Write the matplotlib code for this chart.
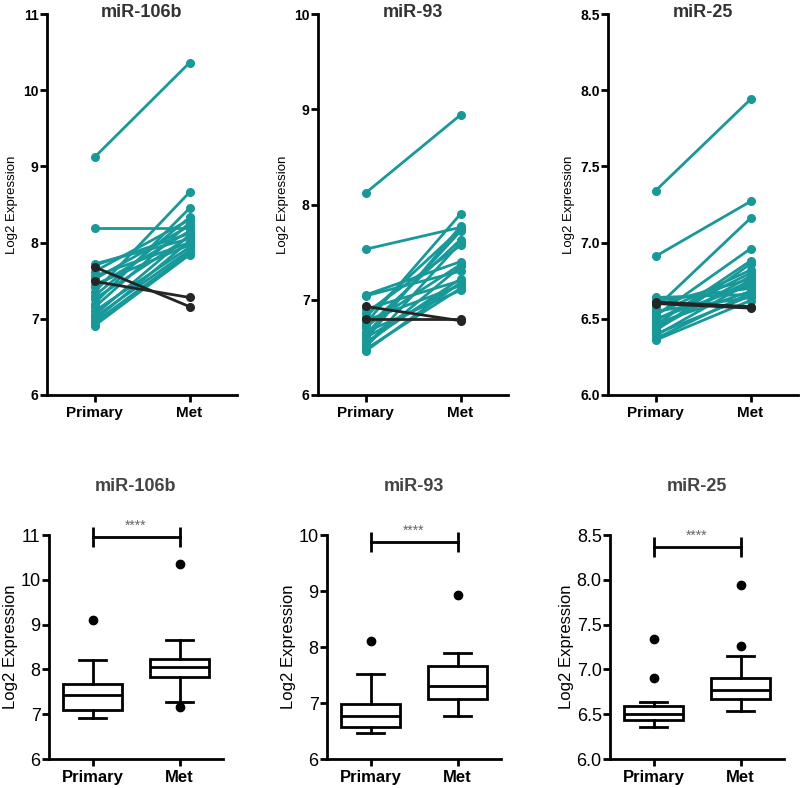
import matplotlib.pyplot as plt

plt.rcParams["font.family"] = ["Liberation Sans", "DejaVu Sans"]

# Gene names and group labels
genes = ["miR-106b", "miR-93", "miR-25"]
groups = ["Primary", "Met"]

# Paired log2 expression values (teal = up in Met, black = down in Met)
mir106b_primary = [9.12, 8.19, 7.72, 7.70, 7.62, 7.56, 7.52, 7.45, 7.42, 7.35,
                   7.30, 7.26, 7.20, 7.15, 7.10, 7.05, 7.02, 6.98, 6.95, 6.91]
mir106b_met = [10.36, 8.19, 8.05, 8.12, 8.30, 8.00, 8.22, 7.97, 8.15, 8.66,
               8.33, 8.08, 8.45, 8.26, 7.94, 8.10, 7.90, 8.02, 7.87, 7.84]
mir106b_down_primary = [7.68, 7.49]
mir106b_down_met = [7.16, 7.28]

mir93_primary = [8.12, 7.53, 7.05, 7.04, 6.90, 6.86, 6.82, 6.78, 6.75, 6.72,
                 6.70, 6.66, 6.63, 6.60, 6.58, 6.55, 6.52, 6.50, 6.48, 6.46]
mir93_met = [8.94, 7.76, 7.40, 7.30, 7.20, 7.57, 7.74, 7.15, 7.90, 7.37,
             7.63, 7.10, 7.72, 7.17, 7.77, 7.22, 7.35, 7.60, 7.12, 7.18]
mir93_down_primary = [6.93, 6.80]
mir93_down_met = [6.78, 6.80]

mir25_primary = [7.34, 6.91, 6.64, 6.62, 6.59, 6.57, 6.55, 6.53, 6.52, 6.50,
                 6.49, 6.47, 6.46, 6.45, 6.43, 6.42, 6.40, 6.39, 6.37, 6.36]
mir25_met = [7.94, 7.27, 6.66, 6.70, 6.76, 7.16, 6.64, 6.82, 6.96, 6.72,
             6.80, 6.68, 6.88, 6.75, 6.78, 6.86, 6.65, 6.74, 6.67, 6.62]
mir25_down_primary = [6.61, 6.60]
mir25_down_met = [6.58, 6.57]

# Box plot summaries: [whisker low, Q1, median, Q3, whisker high] and outliers
mir106b_box_primary = [6.91, 7.10, 7.43, 7.68, 8.20]
mir106b_box_met = [7.27, 7.83, 8.06, 8.23, 8.66]
mir106b_out_primary = [9.11]
mir106b_out_met = [10.35, 7.16]

mir93_box_primary = [6.46, 6.58, 6.77, 6.98, 7.52]
mir93_box_met = [6.77, 7.08, 7.30, 7.66, 7.89]
mir93_out_primary = [8.11]
mir93_out_met = [8.93]

mir25_box_primary = [6.36, 6.43, 6.50, 6.59, 6.64]
mir25_box_met = [6.54, 6.67, 6.77, 6.90, 7.15]
mir25_out_primary = [7.34, 6.90]
mir25_out_met = [7.94, 7.26]

# Axis ranges, ticks and significance bar heights
y_limits = [(6, 11), (6, 10), (6.0, 8.5)]
y_ticks = [[6, 7, 8, 9, 10, 11], [6, 7, 8, 9, 10], [6.0, 6.5, 7.0, 7.5, 8.0, 8.5]]
y_fmt = ["{:.0f}", "{:.0f}", "{:.1f}"]
sig_y = [10.95, 9.88, 8.37]

paired = [
    (mir106b_primary, mir106b_met, mir106b_down_primary, mir106b_down_met),
    (mir93_primary, mir93_met, mir93_down_primary, mir93_down_met),
    (mir25_primary, mir25_met, mir25_down_primary, mir25_down_met),
]
boxes = [
    (mir106b_box_primary, mir106b_box_met, mir106b_out_primary, mir106b_out_met),
    (mir93_box_primary, mir93_box_met, mir93_out_primary, mir93_out_met),
    (mir25_box_primary, mir25_box_met, mir25_out_primary, mir25_out_met),
]

teal = "#17999a"
dark = "#252525"

W, H = 800, 788
fig = plt.figure(figsize=(W / 100, H / 100), dpi=100)

top_left = [47, 318, 608]
bot_left = [49, 327, 610]


def style_axis(ax, bold_ticks, tick_size, xlabel_size):
    for side in ["top", "right"]:
        ax.spines[side].set_visible(False)
    for side in ["left", "bottom"]:
        ax.spines[side].set_linewidth(2)
    ax.tick_params(axis="both", width=2, length=5, color="black")
    ax.set_xlim(-0.5, 1.5)
    ax.set_xticks([0, 1])
    ax.set_xticklabels(groups, fontsize=xlabel_size, fontweight="bold")
    ax.tick_params(axis="x", pad=3)
    ax.tick_params(axis="y", pad=1)
    for lab in ax.get_yticklabels():
        lab.set_fontweight("bold" if bold_ticks else "normal")
        lab.set_fontsize(tick_size)


# Top row: paired before/after plots
for i in range(3):
    ax = fig.add_axes([top_left[i] / W, (H - 395) / H, 190 / W, 381 / H])
    prim, met, dprim, dmet = paired[i]
    for p, m in zip(prim, met):
        ax.plot([0, 1], [p, m], color=teal, lw=2, marker="o", markersize=5.5,
                clip_on=False)
    for p, m in zip(dprim, dmet):
        ax.plot([0, 1], [p, m], color=dark, lw=2, marker="o", markersize=5.5,
                clip_on=False)
    ax.set_ylim(*y_limits[i])
    ax.set_yticks(y_ticks[i])
    ax.set_yticklabels([y_fmt[i].format(v) for v in y_ticks[i]])
    style_axis(ax, True, 10, 11)
    ax.set_ylabel("Log2 Expression", fontsize=9.5, labelpad=4)
    ax.text(0.5, 1.005, genes[i], transform=ax.transAxes, ha="center",
            va="center", fontsize=13, fontweight="bold", color="#333333")

# Bottom row: box and whisker plots
for i in range(3):
    ax = fig.add_axes([bot_left[i] / W, (H - 759) / H, 174 / W, 224 / H])
    bp, bm, op, om = boxes[i]
    stats = []
    for s, fl in [(bp, op), (bm, om)]:
        stats.append({"whislo": s[0], "q1": s[1], "med": s[2], "q3": s[3],
                      "whishi": s[4], "fliers": fl})
    ax.bxp(stats, positions=[0, 1], widths=0.67, capwidths=0.3,
           patch_artist=True,
           boxprops=dict(facecolor="white", edgecolor="black", linewidth=2),
           medianprops=dict(color="black", linewidth=2),
           whiskerprops=dict(color="black", linewidth=2),
           capprops=dict(color="black", linewidth=2),
           flierprops=dict(marker="o", markerfacecolor="black",
                           markeredgecolor="black", markersize=6))
    ax.set_ylim(*y_limits[i])
    ax.set_yticks(y_ticks[i])
    ax.set_yticklabels([y_fmt[i].format(v) for v in y_ticks[i]])
    style_axis(ax, False, 13, 12)
    ax.set_ylabel("Log2 Expression", fontsize=12, labelpad=2)
    ax.set_title(genes[i], fontsize=13, fontweight="bold", color="#444444",
                 pad=32)
    # significance bar
    ax.plot([0, 1], [sig_y[i], sig_y[i]], color="black", lw=2, clip_on=False)
    ax.plot([0, 1], [sig_y[i], sig_y[i]], color="black", lw=0, marker="|",
            markersize=14, markeredgewidth=2, clip_on=False)
    ax.annotate("****", xy=(0.5, sig_y[i]), xytext=(0, 3),
                textcoords="offset points", ha="center", va="bottom",
                fontsize=10, color="#666666", annotation_clip=False)

fig.savefig("out.png", dpi=100)
